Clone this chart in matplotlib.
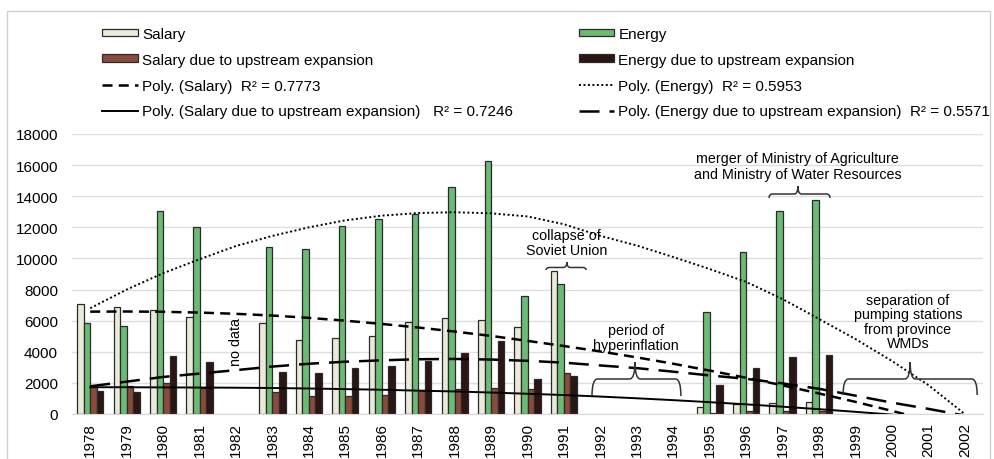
import numpy as np
import matplotlib
matplotlib.use("Agg")
import matplotlib.pyplot as plt
from matplotlib.path import Path
from matplotlib.patches import PathPatch, Rectangle, Patch
from matplotlib.lines import Line2D

years = [str(y) for y in range(1978, 2003)]
nan = np.nan
salary = [7100, 6900, 6680, 6260, nan, 5830, 4750, 4860, 5030, 5890, 6170, 6040, 5610, 9210,
          nan, nan, nan, 430, 640, 720, 790, nan, nan, nan, nan]
energy = [5830, 5680, 13070, 12040, nan, 10710, 10630, 12100, 12530, 12850, 14570, 16260, 7600, 8350,
          nan, nan, nan, 6530, 10430, 13030, 13770, nan, nan, nan, nan]
salary_up = [1780, 1780, 1970, 1650, nan, 1430, 1140, 1180, 1220, 1560, 1610, 1690, 1610, 2610,
             nan, nan, nan, 60, 200, 190, 200, nan, nan, nan, nan]
energy_up = [1480, 1430, 3750, 3320, nan, 2680, 2630, 2980, 3110, 3430, 3900, 4690, 2250, 2420,
             nan, nan, nan, 1890, 2980, 3640, 3810, nan, nan, nan, nan]

# polynomial trendlines (one value per year, below 0 is clipped)
trend_salary = [6580, 6590, 6570, 6520, 6440, 6330, 6180, 6000, 5790, 5560, 5300, 5020, 4700,
                4370, 4020, 3640, 3230, 2790, 2330, 1840, 1320, 780, 200, -400, -1000]
trend_salary_up = [1720, 1720, 1710, 1700, 1690, 1670, 1640, 1600, 1560, 1500, 1450, 1380, 1300,
                   1220, 1120, 1010, 890, 760, 620, 470, 310, 140, -40, -240, -450]
trend_energy = [6800, 8000, 9050, 9950, 10800, 11450, 12000, 12450, 12750, 12920, 12970, 12900,
                12700, 12200, 11450, 10830, 10090, 9320, 8490, 7390, 6110, 4820, 3410, 1860, 0]
trend_energy_up = [1780, 2080, 2380, 2600, 2820, 3050, 3230, 3360, 3450, 3520, 3540, 3500, 3420,
                   3300, 3120, 2950, 2720, 2480, 2260, 1970, 1620, 1180, 730, 330, -100]

labels = ["Salary", "Salary due to upstream expansion",
          "Energy", "Energy due to upstream expansion"]
r2 = ["0.7773", "0.7246", "0.5953", "0.5571"]

plt.rcParams['font.family'] = ['Liberation Sans', 'DejaVu Sans']

fig = plt.figure(figsize=(9.95, 4.6), dpi=100)
ax = fig.add_axes([72 / 995, 1 - 415 / 460, 911 / 995, 280 / 460])

x = np.arange(len(years))
w = 0.18
cols = {"Salary": "#e9ead9", "Energy": "#6cbb74",
        "Salary due to upstream expansion": "#8a4b3c",
        "Energy due to upstream expansion": "#2b1613"}
order = [("Salary", salary), ("Energy", energy),
         ("Salary due to upstream expansion", salary_up),
         ("Energy due to upstream expansion", energy_up)]
for k, (name, vals) in enumerate(order):
    ax.bar(x + (k - 1.5) * w, vals, w, color=cols[name], edgecolor="#2a2a2a",
           linewidth=0.9, zorder=2)

styles = {"Salary": dict(ls=(0, (4, 2.5)), lw=1.8),
          "Salary due to upstream expansion": dict(ls="-", lw=1.4),
          "Energy": dict(ls=(0, (1, 1.3)), lw=1.4),
          "Energy due to upstream expansion": dict(ls=(0, (8, 4)), lw=1.8)}
trends = {"Salary": trend_salary, "Salary due to upstream expansion": trend_salary_up,
          "Energy": trend_energy, "Energy due to upstream expansion": trend_energy_up}
for name, tv in trends.items():
    ax.plot(x, tv, color="black", zorder=3, **styles[name])

ax.set_xlim(-0.5, len(years) - 0.5)
ax.set_ylim(0, 18000)
ax.set_yticks(range(0, 18001, 2000))
ax.set_xticks(x)
ax.set_xticklabels(years, rotation=90)
ax.tick_params(axis="both", length=0, labelsize=11)
ax.tick_params(axis="y", pad=10)
ax.tick_params(axis="x", pad=6)
ax.grid(axis="y", color="#e2dcdc", lw=1, zorder=0)
ax.set_axisbelow(True)
for s in ["left", "right", "top"]:
    ax.spines[s].set_visible(False)
ax.spines["bottom"].set_color("#dcd6d6")


def brace(x0, x1, xt, y_end, y_mid, y_tip, r=0.15):
    verts = [(x0, y_end), (x0, y_mid), (x0 + r, y_mid), (xt - r, y_mid),
             (xt, y_mid), (xt, y_tip), (xt, y_mid), (xt + r, y_mid),
             (x1 - r, y_mid), (x1, y_mid), (x1, y_end)]
    codes = [Path.MOVETO, Path.CURVE3, Path.CURVE3, Path.LINETO,
             Path.CURVE3, Path.CURVE3, Path.CURVE3, Path.CURVE3,
             Path.LINETO, Path.CURVE3, Path.CURVE3]
    ax.add_patch(PathPatch(Path(verts, codes), fill=False, color="#333333",
                           lw=1.1, zorder=4))


afs = 10.3
ax.text(4.0, 4690, "no data", rotation=90, ha="center", va="center", fontsize=afs)
ax.text(13.08, 11000, "collapse of\nSoviet Union", ha="center", va="center",
        fontsize=afs, linespacing=1.1)
brace(12.51, 13.61, 13.08, 9260, 9420, 9770, r=0.1)
ax.text(14.98, 4920, "period of\nhyperinflation", ha="center", va="center",
        fontsize=afs, linespacing=1.1)
brace(13.77, 16.21, 14.95, 1157, 2250, 3343)
ax.text(19.42, 15943, "merger of Ministry of Agriculture\nand Ministry of Water Resources",
        ha="center", va="center", fontsize=afs, linespacing=1.1)
brace(18.63, 20.30, 19.42, 13886, 14143, 14657, r=0.1)
ax.text(22.44, 5946, "separation of\npumping stations\nfrom province\nWMDs",
        ha="center", va="center", fontsize=afs, linespacing=1.05)
brace(20.66, 24.34, 22.5, 1221, 2250, 3343)

# legend
h = []
h.append(Patch(facecolor=cols["Salary"], edgecolor="#2a2a2a", lw=0.9))
h.append(Patch(facecolor=cols["Salary due to upstream expansion"], edgecolor="#2a2a2a", lw=0.9))
h.append(Line2D([], [], color="black", **styles["Salary"]))
h.append(Line2D([], [], color="black", **styles["Salary due to upstream expansion"]))
h.append(Patch(facecolor=cols["Energy"], edgecolor="#2a2a2a", lw=0.9))
h.append(Patch(facecolor=cols["Energy due to upstream expansion"], edgecolor="#2a2a2a", lw=0.9))
h.append(Line2D([], [], color="black", **styles["Energy"]))
h.append(Line2D([], [], color="black", **styles["Energy due to upstream expansion"]))
lab = [labels[0], labels[1],
       "Poly. (%s)  R² = %s" % (labels[0], r2[0]),
       "Poly. (%s)   R² = %s" % (labels[1], r2[1]),
       labels[2], labels[3],
       "Poly. (%s)  R² = %s" % (labels[2], r2[2]),
       "Poly. (%s)  R² = %s" % (labels[3], r2[3])]
fig.legend(h, lab, ncol=2, loc="upper left", bbox_to_anchor=(102 / 995, 1 - 28 / 460),
           frameon=False, fontsize=11, borderpad=0, borderaxespad=0,
           handlelength=2.35, handletextpad=0.26, columnspacing=4.3,
           labelspacing=0.77, handleheight=0.4)

fig.add_artist(Rectangle((7 / 995, -0.1), 983 / 995, 1.1 - 12 / 460,
                         transform=fig.transFigure, fill=False, edgecolor="#d0d0d0",
                         lw=1, clip_on=False))

fig.savefig("out.png", dpi=100)
